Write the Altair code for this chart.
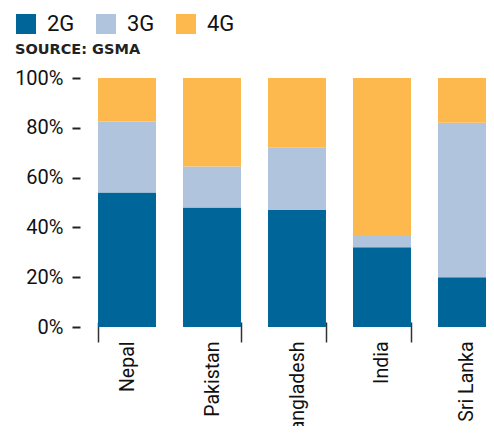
import altair as alt
import pandas as pd

countries = ["Nepal", "Pakistan", "Bangladesh", "India", "Sri Lanka"]
techs = ["2G", "3G", "4G"]
share_2g = [54, 48, 47, 32, 20]
share_3g = [28.5, 16.5, 25, 4.5, 62]
share_4g = [17.5, 35.5, 28, 63.5, 18]
tick_values = [0, 20, 40, 60, 80, 100]
colors = ["#00669A", "#B0C4DE", "#FDB94E"]

rows = []
for i, c in enumerate(countries):
    for k, (t, vals) in enumerate(zip(techs, [share_2g, share_3g, share_4g])):
        rows.append({"country": c, "tech": t, "share": vals[i], "order": k})
df = pd.DataFrame(rows)

FONT = "Roboto"

chart = alt.Chart(df).mark_bar().encode(
    x=alt.X(
        "country:N",
        sort=countries,
        title=None,
        scale=alt.Scale(range=[0, 434], paddingInner=0.318, paddingOuter=0.212),
        axis=alt.Axis(
            labelAngle=-90,
            tickBand="extent",
            ticks=True,
            tickSize=20,
            offset=-5,
            domain=False,
            labelPadding=-1,
            tickColor="#333",
            tickWidth=1.5,
            tickOpacity={"condition": {"test": "datum.value === 'Nepal'", "value": 0}, "value": 1},
            labelFont=FONT,
            labelFontSize=19.5,
            labelColor="#111",
        ),
    ),
    y=alt.Y(
        "share:Q",
        stack="zero",
        title=None,
        scale=alt.Scale(domain=[0, 100], nice=False),
        axis=alt.Axis(
            values=tick_values,
            labelExpr="datum.value + '%'",
            domain=False,
            grid=False,
            tickSize=8,
            tickWidth=2,
            tickColor="#222",
            labelPadding=9,
            labelFont=FONT,
            labelFontSize=20,
            labelColor="#111",
        ),
    ),
    color=alt.Color(
        "tech:N",
        scale=alt.Scale(domain=techs, range=colors),
        legend=alt.Legend(
            orient="none",
            legendX=-65,
            legendY=-65,
            direction="horizontal",
            title="SOURCE: GSMA",
            titleOrient="bottom",
            titleAnchor="start",
            titleFont="DejaVu Sans",
            titleFontWeight="bold",
            titleFontSize=14.5,
            titleColor="#222",
            titlePadding=8,
            symbolType="square",
            symbolSize=400,
            symbolStrokeWidth=0,
            symbolOpacity=1,
            labelFont=FONT,
            labelFontSize=22,
            labelColor="#111",
            labelOffset=10,
            columnPadding=20,
            padding=0,
        ),
    ),
    order=alt.Order("order:Q"),
).properties(
    width=406,
    height=249,
    padding={"left": 72, "top": 70, "right": 0, "bottom": 99},
    autosize="none",
).configure_view(stroke=None)

chart.save("out.html", embed_options={"renderer": "svg", "actions": False})
